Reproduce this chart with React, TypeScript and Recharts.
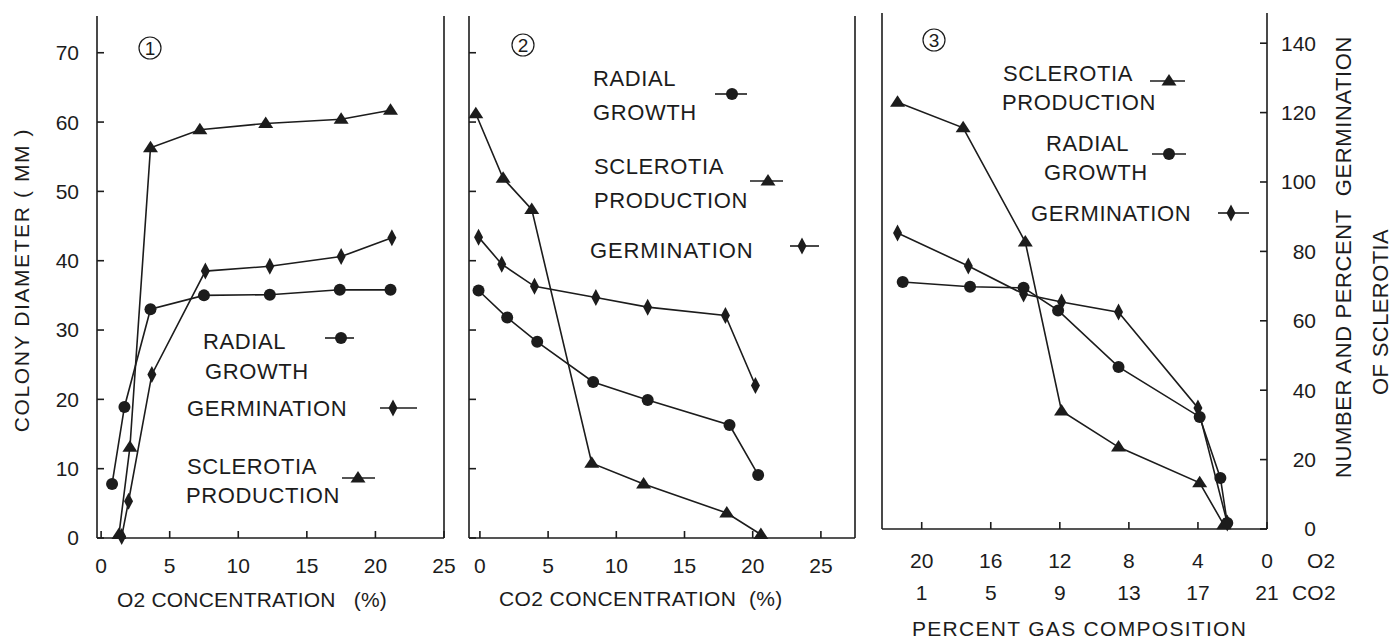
import React from "react";
import { LineChart, Line, XAxis, YAxis } from "recharts";

type Pt = { x: number; y: number };

// panel 1 : colony diameter (mm) against O2 concentration (%)
const p1Radial: Pt[] = [
  { x: 0.8, y: 7.8 }, { x: 1.7, y: 18.9 }, { x: 3.6, y: 33.0 }, { x: 7.5, y: 35.0 },
  { x: 12.3, y: 35.1 }, { x: 17.4, y: 35.8 }, { x: 21.1, y: 35.8 },
];
const p1Germ: Pt[] = [
  { x: 1.5, y: 0.2 }, { x: 2.0, y: 5.3 }, { x: 3.7, y: 23.6 }, { x: 7.6, y: 38.5 },
  { x: 12.3, y: 39.2 }, { x: 17.5, y: 40.6 }, { x: 21.2, y: 43.3 },
];
const p1Scler: Pt[] = [
  { x: 1.3, y: 0.5 }, { x: 2.1, y: 13.1 }, { x: 3.6, y: 56.3 }, { x: 7.2, y: 58.9 },
  { x: 12.0, y: 59.8 }, { x: 17.5, y: 60.4 }, { x: 21.1, y: 61.7 },
];

// panel 2 : against CO2 concentration (%)
const p2Scler: Pt[] = [
  { x: -0.3, y: 61.2 }, { x: 1.7, y: 51.9 }, { x: 3.8, y: 47.4 }, { x: 8.2, y: 10.8 },
  { x: 12.0, y: 7.8 }, { x: 18.1, y: 3.6 }, { x: 20.6, y: 0.5 },
];
const p2Germ: Pt[] = [
  { x: -0.1, y: 43.4 }, { x: 1.6, y: 39.5 }, { x: 4.0, y: 36.3 }, { x: 8.5, y: 34.7 },
  { x: 12.3, y: 33.3 }, { x: 18.0, y: 32.1 }, { x: 20.2, y: 22.0 },
];
const p2Radial: Pt[] = [
  { x: -0.1, y: 35.7 }, { x: 2.0, y: 31.8 }, { x: 4.2, y: 28.3 }, { x: 8.3, y: 22.5 },
  { x: 12.3, y: 19.9 }, { x: 18.3, y: 16.3 }, { x: 20.4, y: 9.1 },
];

// panel 3 : x is the O2 percent of the gas mix (CO2 = 21 - O2), y on the right scale
const p3Scler: Pt[] = [
  { x: 21.4, y: 123 }, { x: 17.6, y: 115.6 }, { x: 14.0, y: 82.7 }, { x: 11.9, y: 34 },
  { x: 8.6, y: 23.6 }, { x: 3.9, y: 13.3 }, { x: 2.5, y: 1.2 },
];
const p3Radial: Pt[] = [
  { x: 21.1, y: 71.2 }, { x: 17.2, y: 69.8 }, { x: 14.1, y: 69.5 }, { x: 12.1, y: 63 },
  { x: 8.6, y: 46.7 }, { x: 3.9, y: 32.3 }, { x: 2.7, y: 14.7 }, { x: 2.3, y: 1.7 },
];
const p3Germ: Pt[] = [
  { x: 21.4, y: 85.3 }, { x: 17.3, y: 75.8 }, { x: 14.1, y: 67.7 }, { x: 11.9, y: 65.4 },
  { x: 8.6, y: 62.5 }, { x: 4.0, y: 34.9 }, { x: 2.3, y: 1.7 },
];

const diamTicks = [0, 10, 20, 30, 40, 50, 60, 70];
const concTicks = [0, 5, 10, 15, 20, 25];
const countTicks = [0, 20, 40, 60, 80, 100, 120, 140];
const o2Ticks = [20, 16, 12, 8, 4, 0];
const co2Ticks = [1, 5, 9, 13, 17, 21];

const INK = "#1c1c1c";
const FONT = "'Liberation Sans', Arial, sans-serif";
const tickFont = { fontFamily: FONT, fontSize: 21, fill: INK };

function Marker({ kind, cx, cy }: { kind: string; cx: number; cy: number }) {
  if (kind === "circle") return <circle cx={cx} cy={cy} r={6} fill={INK} />;
  if (kind === "triangle")
    return <path d={`M${cx},${cy - 7}L${cx + 7.5},${cy + 4.5}L${cx - 7.5},${cy + 4.5}Z`} fill={INK} />;
  return <path d={`M${cx},${cy - 8.5}L${cx + 4.5},${cy}L${cx},${cy + 8.5}L${cx - 4.5},${cy}Z`} fill={INK} />;
}

const dot = (kind: string) => (p: any) => <Marker key={p.index} kind={kind} cx={p.cx} cy={p.cy} />;

function series(data: Pt[], kind: string, yId = "l") {
  return (
    <Line
      key={kind}
      xAxisId="b"
      yAxisId={yId}
      data={data}
      dataKey="y"
      type="linear"
      stroke={INK}
      strokeWidth={1.6}
      dot={dot(kind)}
      activeDot={false}
      isAnimationActive={false}
    />
  );
}

function Key({ kind, x1, x2, cx, y }: { kind: string; x1: number; x2: number; cx: number; y: number }) {
  return (
    <g>
      <line x1={x1} x2={x2} y1={y} y2={y} stroke={INK} strokeWidth={1.6} />
      <Marker kind={kind} cx={cx} cy={y} />
    </g>
  );
}

function Word({ x, y, children, size = 22, ls = 0.6 }: any) {
  return (
    <text x={x} y={y} fontFamily={FONT} fontSize={size} fill={INK} letterSpacing={ls} style={{ whiteSpace: "pre" }}>
      {children}
    </text>
  );
}

function Badge({ cx, cy, n }: { cx: number; cy: number; n: number }) {
  return (
    <g>
      <circle cx={cx} cy={cy} r={11} fill="none" stroke={INK} strokeWidth={1.2} />
      <text x={cx} y={cy + 7} textAnchor="middle" fontFamily={FONT} fontSize={19} fill={INK}>
        {n}
      </text>
    </g>
  );
}

const gasTick = (p: any) => {
  const i = o2Ticks.indexOf(p.payload.value);
  return (
    <g key={`g${i}`}>
      <text x={p.x} y={p.y + 39} textAnchor="middle" {...tickFont}>{o2Ticks[i]}</text>
      <text x={p.x} y={p.y + 71} textAnchor="middle" {...tickFont}>{co2Ticks[i]}</text>
    </g>
  );
};

const blank = () => "";

export default function App() {
  return (
    <div style={{ position: "absolute", left: 0, top: 0, width: 1400, height: 639, background: "#fff" }}>
      <div style={{ position: "absolute", left: 0, top: 0 }}>
        <LineChart width={470} height={639} margin={{ top: 16, right: 25, bottom: 51, left: 0 }}>
          <XAxis xAxisId="b" type="number" dataKey="x" domain={[-0.3, 25]} ticks={concTicks} height={50}
            tickSize={-7} tickMargin={27} tick={tickFont} stroke={INK} strokeWidth={1.6} />
          <XAxis xAxisId="t" orientation="top" type="number" dataKey="x" domain={[-0.3, 25]} height={0}
            tick={false} tickLine={false} stroke={INK} strokeWidth={1.6} />
          <YAxis yAxisId="l" type="number" domain={[0, 75.3]} ticks={diamTicks} width={97}
            tickSize={-7} tickMargin={25} tick={tickFont} stroke={INK} strokeWidth={1.6} />
          <YAxis yAxisId="r" orientation="right" type="number" domain={[0, 75.3]} ticks={diamTicks} width={1}
            tickSize={-7} tickFormatter={blank} stroke={INK} strokeWidth={1.6} />
          {series(p1Scler, "triangle")}
          {series(p1Germ, "diamond")}
          {series(p1Radial, "circle")}
        </LineChart>
      </div>

      <div style={{ position: "absolute", left: 460, top: 0 }}>
        <LineChart width={440} height={639} margin={{ top: 16, right: 44, bottom: 51, left: 0 }}>
          <XAxis xAxisId="b" type="number" dataKey="x" domain={[-0.8, 27.5]} ticks={concTicks} height={50}
            tickSize={-7} tickMargin={27} tick={tickFont} stroke={INK} strokeWidth={1.6} />
          <XAxis xAxisId="t" orientation="top" type="number" dataKey="x" domain={[-0.8, 27.5]} height={0}
            tick={false} tickLine={false} stroke={INK} strokeWidth={1.6} />
          <YAxis yAxisId="l" type="number" domain={[0, 75.3]} ticks={diamTicks} width={9}
            tickSize={-7} tickFormatter={blank} stroke={INK} strokeWidth={1.6} />
          <YAxis yAxisId="r" orientation="right" type="number" domain={[0, 75.3]} ticks={diamTicks} width={1}
            tickSize={-7} tickFormatter={blank} stroke={INK} strokeWidth={1.6} />
          {series(p2Scler, "triangle")}
          {series(p2Germ, "diamond")}
          {series(p2Radial, "circle")}
        </LineChart>
      </div>

      <div style={{ position: "absolute", left: 870, top: 0 }}>
        <LineChart width={530} height={639} margin={{ top: 13, right: 0, bottom: 50, left: 0 }}>
          <XAxis xAxisId="b" type="number" dataKey="x" domain={[0, 22.3]} reversed ticks={o2Ticks} height={60}
            tickSize={-7} tickMargin={7} tick={gasTick} stroke={INK} strokeWidth={1.6} />
          <XAxis xAxisId="t" orientation="top" type="number" dataKey="x" domain={[0, 22.3]} reversed height={0}
            tick={false} tickLine={false} stroke={INK} strokeWidth={1.6} />
          <YAxis yAxisId="l" type="number" domain={[0, 148.7]} ticks={countTicks} width={12}
            tickSize={-7} tickFormatter={blank} stroke={INK} strokeWidth={1.6} />
          <YAxis yAxisId="r" orientation="right" type="number" domain={[0, 148.7]} ticks={countTicks} width={133}
            tickSize={-7} tickMargin={56} tick={{ ...tickFont, textAnchor: "end" }} stroke={INK} strokeWidth={1.6} />
          {series(p3Scler, "triangle", "r")}
          {series(p3Germ, "diamond", "r")}
          {series(p3Radial, "circle", "r")}
        </LineChart>
      </div>

      <svg width={1400} height={639} style={{ position: "absolute", left: 0, top: 0, pointerEvents: "none" }}>
        <Badge cx={150} cy={48} n={1} />
        <Badge cx={523} cy={45} n={2} />
        <Badge cx={934} cy={40} n={3} />

        {/* panel 1 legend */}
        <Word x={203} y={349}>RADIAL</Word>
        <Word x={205} y={379}>GROWTH</Word>
        <Key kind="circle" x1={325} x2={354} cx={341} y={338} />
        <Word x={187} y={416}>GERMINATION</Word>
        <Key kind="diamond" x1={380} x2={417} cx={393} y={408} />
        <Word x={187} y={474}>SCLEROTIA</Word>
        <Word x={186} y={503}>PRODUCTION</Word>
        <Key kind="triangle" x1={342} x2={375} cx={358} y={478} />

        {/* panel 2 legend */}
        <Word x={593} y={86}>RADIAL</Word>
        <Word x={593} y={120}>GROWTH</Word>
        <Key kind="circle" x1={715} x2={747} cx={732} y={94} />
        <Word x={594} y={174}>SCLEROTIA</Word>
        <Word x={594} y={208}>PRODUCTION</Word>
        <Key kind="triangle" x1={750} x2={783} cx={768} y={181} />
        <Word x={590} y={258} ls={0.9}>GERMINATION</Word>
        <Key kind="diamond" x1={790} x2={819} cx={802} y={246} />

        {/* panel 3 legend */}
        <Word x={1003} y={81}>SCLEROTIA</Word>
        <Word x={1002} y={110}>PRODUCTION</Word>
        <Key kind="triangle" x1={1150} x2={1185} cx={1169} y={81} />
        <Word x={1046} y={151}>RADIAL</Word>
        <Word x={1044} y={180}>GROWTH</Word>
        <Key kind="circle" x1={1152} x2={1186} cx={1169} y={154} />
        <Word x={1031} y={221}>GERMINATION</Word>
        <Key kind="diamond" x1={1218} x2={1249} cx={1231} y={213} />

        {/* axis titles */}
        <text x={0} y={0} transform="translate(29,280) rotate(-90)" textAnchor="middle" fontFamily={FONT}
          fontSize={21} letterSpacing={1.6} fill={INK} style={{ whiteSpace: "pre" }}>
          COLONY DIAMETER ( MM )
        </text>
        <text x={0} y={0} transform="translate(1351,257) rotate(-90)" textAnchor="middle" fontFamily={FONT}
          fontSize={22} letterSpacing={0.6} fill={INK} style={{ whiteSpace: "pre" }}>
          NUMBER AND PERCENT  GERMINATION
        </text>
        <text x={0} y={0} transform="translate(1388,312) rotate(-90)" textAnchor="middle" fontFamily={FONT}
          fontSize={22} letterSpacing={0.4} fill={INK}>
          OF SCLEROTIA
        </text>
        <Word x={117} y={607} size={21} ls={0.2}>O2 CONCENTRATION   (%)</Word>
        <Word x={499} y={606} size={21} ls={0.4}>CO2 CONCENTRATION  (%)</Word>
        <Word x={912} y={636} size={21} ls={1.3}>PERCENT GAS COMPOSITION</Word>
        <Word x={1307} y={568} size={21} ls={0.2}>O2</Word>
        <Word x={1292} y={600} size={21} ls={0.2}>CO2</Word>
      </svg>
    </div>
  );
}
